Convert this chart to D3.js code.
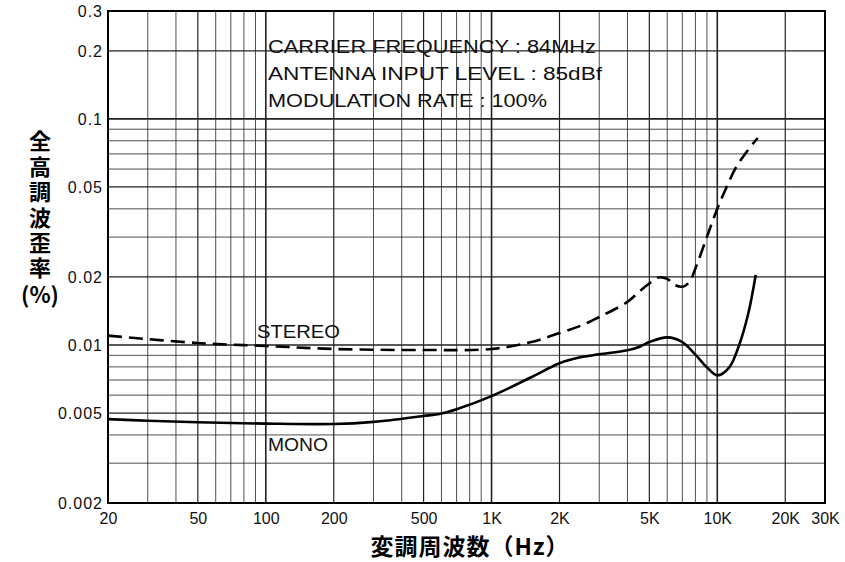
<!DOCTYPE html>
<html>
<head>
<meta charset="utf-8">
<script src="https://cdn.jsdelivr.net/npm/d3@7"></script>
<style>
  body { margin: 0; background: #fff; }
  svg { display: block; }
</style>
</head>
<body>
<script>
// frequency axis ticks
const xTickVals = [20, 50, 100, 200, 500, 1000, 2000, 5000, 10000, 20000, 30000];
const xTickText = ["20", "50", "100", "200", "500", "1K", "2K", "5K", "10K", "20K", "30K"];
// distortion axis ticks
const yTickVals = [0.002, 0.005, 0.01, 0.02, 0.05, 0.1, 0.2, 0.3];
const yTickText = ["0.002", "0.005", "0.01", "0.02", "0.05", "0.1", "0.2", "0.3"];

// MONO (solid)
const monoFreq = [20, 30, 50, 100, 200, 300, 500, 600, 700, 1000, 1500, 2000, 2500, 3000, 4000, 4500, 5000, 6000, 7000, 8000, 9000, 10000, 11300, 12500, 13700, 14800];
const monoVal  = [0.0047, 0.00462, 0.00455, 0.00449, 0.00447, 0.00457, 0.00485, 0.00498, 0.0052, 0.00594, 0.0072, 0.0083, 0.00884, 0.00909, 0.00948, 0.0098, 0.0103, 0.0108, 0.0103, 0.00906, 0.00796, 0.00734, 0.00796, 0.0100, 0.0137, 0.0204];

// STEREO (dashed)
const stereoFreq = [20, 50, 100, 200, 500, 1000, 1500, 2000, 2500, 3000, 4000, 4500, 5000, 5500, 6000, 6500, 7000, 7500, 8000, 9000, 10000, 11000, 12000, 13500, 15100];
const stereoVal  = [0.011, 0.0102, 0.0099, 0.0096, 0.0095, 0.0096, 0.0103, 0.0113, 0.0122, 0.0133, 0.0155, 0.0172, 0.0187, 0.0199, 0.0196, 0.0184, 0.0181, 0.0189, 0.0218, 0.0301, 0.0400, 0.0500, 0.0601, 0.0716, 0.0823];

const notes = ["CARRIER FREQUENCY : 84MHz", "ANTENNA INPUT LEVEL : 85dBf", "MODULATION RATE : 100%"];
const noteLengths = [328, 334, 279];

const width = 845, height = 562;
const plotLeft = 108, plotRight = 825, plotTop = 11, plotBottom = 503;

const svg = d3.select("body").append("svg")
  .attr("width", width)
  .attr("height", height)
  .style("font-family", "'Liberation Sans', Arial, sans-serif");

const x = d3.scaleLog().domain([20, 30000]).range([plotLeft, plotRight]);
const y = d3.scaleLog().domain([0.002, 0.3]).range([plotBottom, plotTop]);

// grid weight: decades heavy, 2 and 5 medium, rest light
function gridWidth(v) {
  const m = Math.round(v / Math.pow(10, Math.floor(Math.log10(v) + 1e-9)));
  if (m === 1) return 1.6;
  if (m === 2 || m === 5) return 1.2;
  return 0.8;
}

const xGrid = [];
[10, 100, 1000, 10000].forEach(d => {
  for (let k = 1; k <= 9; k++) {
    const v = d * k;
    if (v > 20 && v <= 10000) xGrid.push(v);
  }
});
xGrid.push(20000);

const yGrid = [];
[0.001, 0.01].forEach(d => {
  for (let k = 1; k <= 9; k++) {
    const v = +(d * k).toFixed(4);
    if (v > 0.002) yGrid.push(v);
  }
});
yGrid.push(0.1, 0.2);

const grid = svg.append("g");
grid.selectAll(".vx").data(xGrid).enter().append("line")
  .attr("x1", d => x(d)).attr("x2", d => x(d))
  .attr("y1", plotTop).attr("y2", plotBottom)
  .attr("stroke", "#222").attr("stroke-width", d => gridWidth(d));
grid.selectAll(".hy").data(yGrid).enter().append("line")
  .attr("y1", d => y(d)).attr("y2", d => y(d))
  .attr("x1", plotLeft).attr("x2", plotRight)
  .attr("stroke", "#222").attr("stroke-width", d => gridWidth(d));

// frame
svg.append("rect")
  .attr("x", plotLeft).attr("y", plotTop)
  .attr("width", plotRight - plotLeft).attr("height", plotBottom - plotTop)
  .attr("fill", "none").attr("stroke", "#000").attr("stroke-width", 2);

// axes
const xAxis = svg.append("g")
  .attr("transform", "translate(0," + plotBottom + ")")
  .call(d3.axisBottom(x).tickValues(xTickVals).tickFormat((d, i) => xTickText[i]).tickSize(0).tickPadding(6));
const yAxis = svg.append("g")
  .attr("transform", "translate(" + plotLeft + ",0)")
  .call(d3.axisLeft(y).tickValues(yTickVals).tickFormat((d, i) => yTickText[i]).tickSize(0).tickPadding(5));
[xAxis, yAxis].forEach(a => {
  a.select(".domain").remove();
  a.selectAll("text")
    .attr("fill", "#111")
    .style("font-size", "16px")
    .style("font-family", "'Liberation Sans', Arial, sans-serif");
});
yAxis.selectAll("text").attr("dy", "0.35em").style("letter-spacing", "1px");
xAxis.selectAll("text").attr("dy", "0.92em");

// curves
const line = d3.line()
  .x(d => x(d[0]))
  .y(d => y(d[1]))
  .curve(d3.curveCatmullRom.alpha(0.5));

svg.append("path")
  .datum(monoFreq.map((f, i) => [f, monoVal[i]]))
  .attr("d", line)
  .attr("fill", "none").attr("stroke", "#000").attr("stroke-width", 2.6);

svg.append("path")
  .datum(stereoFreq.map((f, i) => [f, stereoVal[i]]))
  .attr("d", line)
  .attr("fill", "none").attr("stroke", "#000").attr("stroke-width", 2.6)
  .attr("stroke-dasharray", "14,7");

// series labels
svg.append("text").attr("x", 257).attr("y", 338).text("STEREO")
  .attr("textLength", 83).attr("lengthAdjust", "spacingAndGlyphs")
  .style("font-size", "19px").attr("fill", "#111");
svg.append("text").attr("x", 268).attr("y", 451).text("MONO")
  .attr("textLength", 60).attr("lengthAdjust", "spacingAndGlyphs")
  .style("font-size", "19px").attr("fill", "#111");

// conditions
svg.selectAll(".note").data(notes).enter().append("text")
  .attr("x", 268)
  .attr("y", (d, i) => 53 + i * 27)
  .attr("textLength", (d, i) => noteLengths[i])
  .attr("lengthAdjust", "spacingAndGlyphs")
  .text(d => d)
  .style("font-size", "18px")
  .attr("fill", "#111");

// axis titles
svg.append("text")
  .attr("x", 40).attr("y", 130)
  .text("全高調波歪率")
  .style("writing-mode", "vertical-rl")
  .style("letter-spacing", "3.4px")
  .style("font-family", "'Noto Sans CJK JP', sans-serif")
  .style("font-weight", "bold")
  .style("font-size", "22px");
svg.append("text")
  .attr("x", 40).attr("y", 295).attr("dy", "0.35em")
  .attr("text-anchor", "middle")
  .text("(%)")
  .style("font-family", "'Noto Sans CJK JP', sans-serif")
  .style("font-weight", "bold")
  .style("font-size", "22px");

svg.append("text")
  .attr("x", 470).attr("y", 547).attr("dy", "0.35em")
  .attr("text-anchor", "middle")
  .text("変調周波数（Hz）")
  .style("letter-spacing", "1px")
  .style("font-family", "'Noto Sans CJK JP', sans-serif")
  .style("font-weight", "bold")
  .style("font-size", "23px");
</script>
</body>
</html>
